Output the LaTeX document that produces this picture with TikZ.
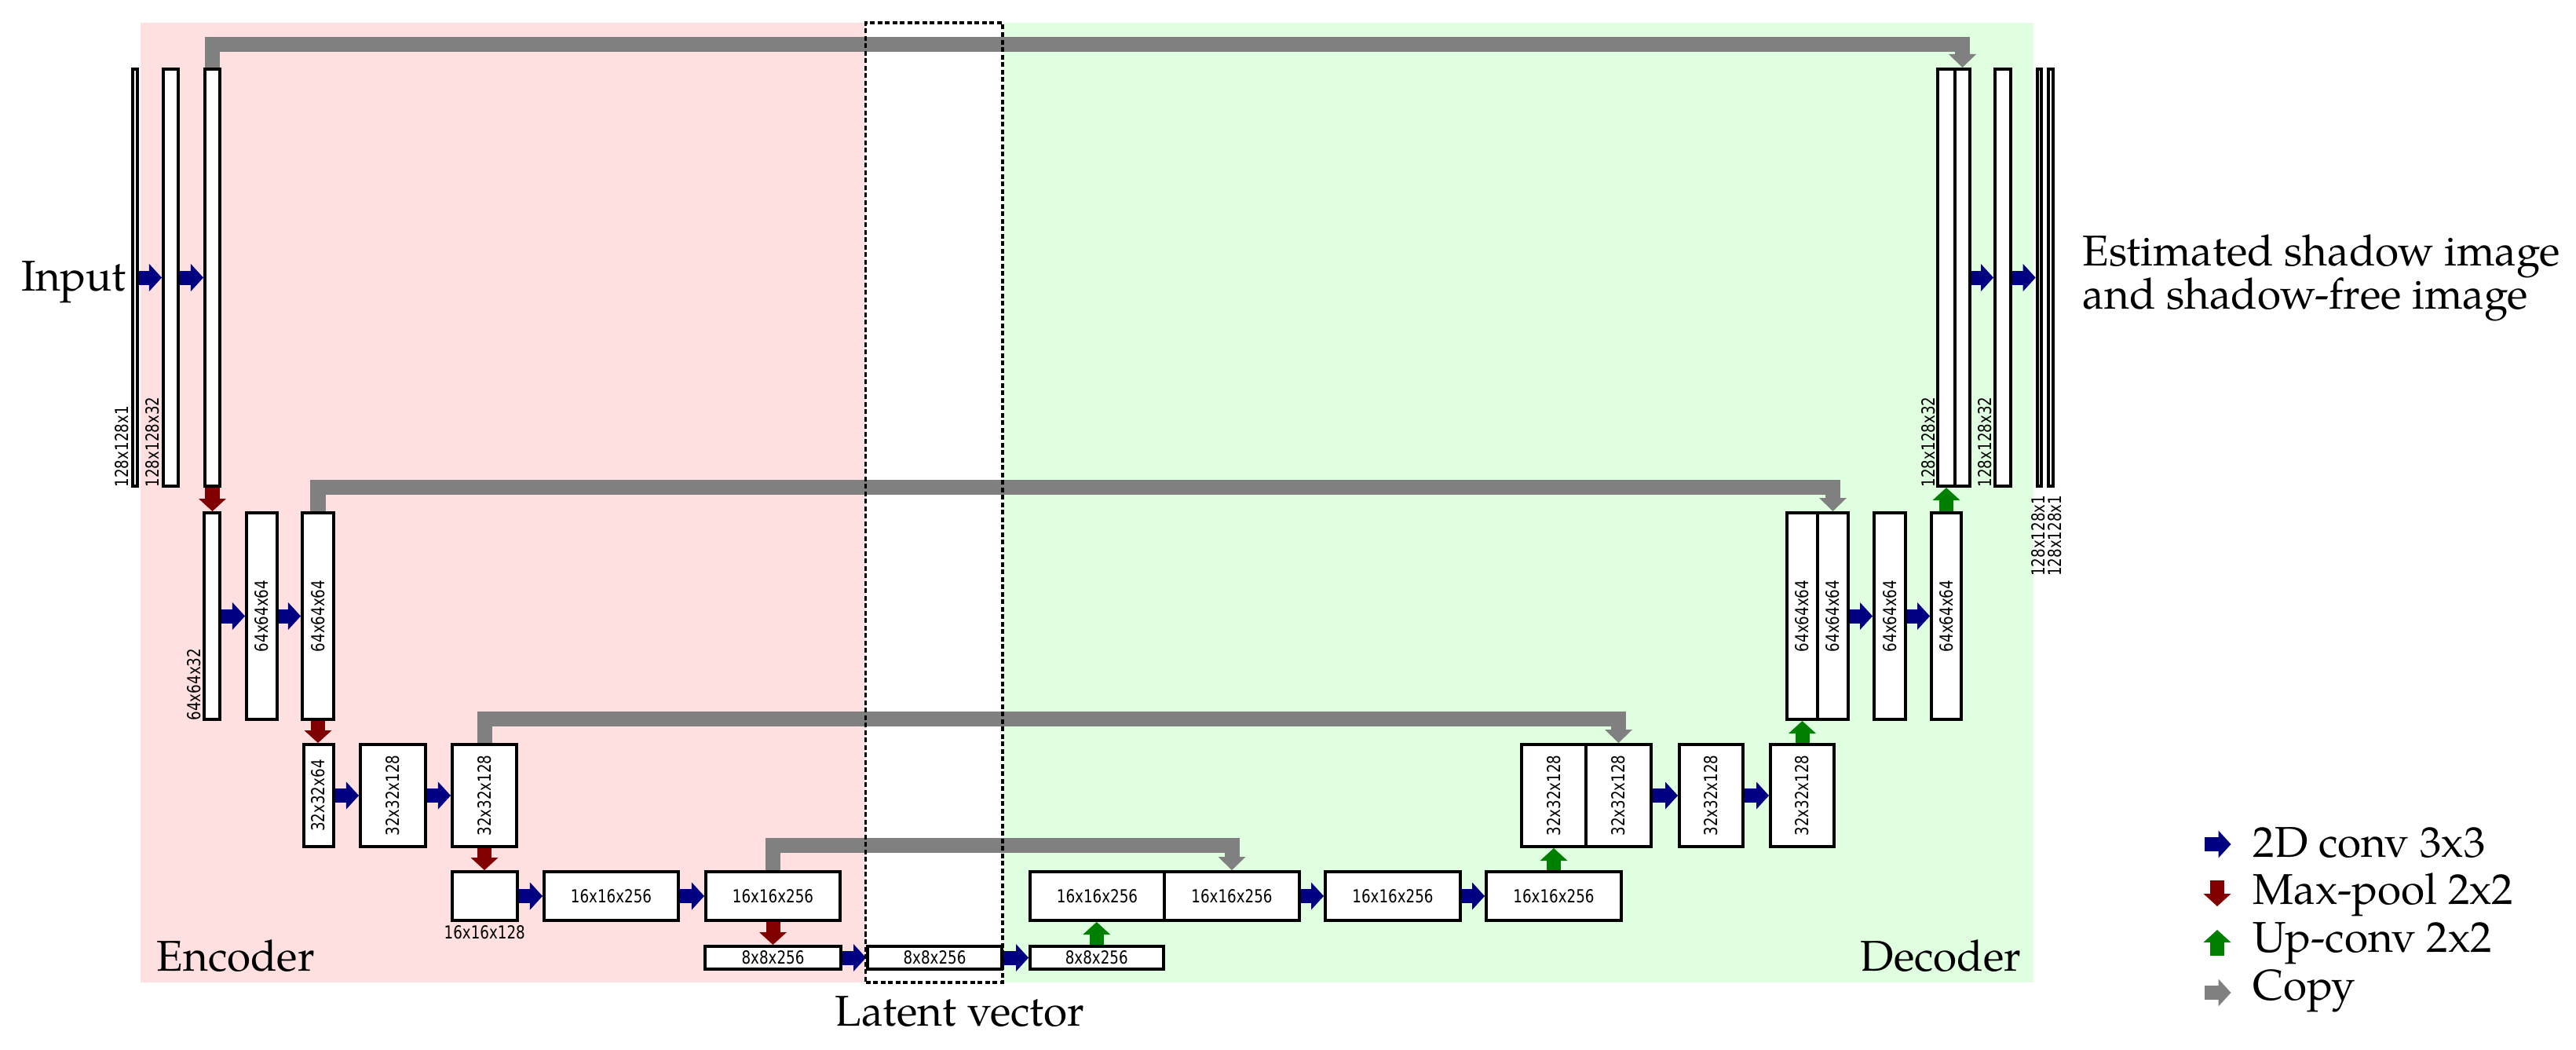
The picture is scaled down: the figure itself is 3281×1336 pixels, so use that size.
\documentclass[tikz,border=0pt]{standalone}
\usepackage{fontspec}
\setmainfont{texgyrepagella}[Extension=.otf,UprightFont=*-regular,BoldFont=*-bold,ItalicFont=*-italic]
\newfontfamily\lblfont{DejaVu Sans}
\usepackage{graphicx}
\usetikzlibrary{arrows.meta,fit,calc}
\definecolor{encbg}{RGB}{255,224,224}
\definecolor{decbg}{RGB}{224,255,224}
\definecolor{convc}{RGB}{0,0,128}
\definecolor{poolc}{RGB}{128,0,0}
\definecolor{upc}{RGB}{0,128,0}
\definecolor{copyc}{RGB}{128,128,128}
\newcommand\lbl[1]{{\lblfont\fontsize{6.5}{7}\selectfont\scalebox{0.8}[1]{#1}}}
\newcommand\mainsz{\fontsize{15.6}{18}\selectfont}
\newcommand\bx[5]{\node[box, fit={(#2+2,#3+2) (#4-2,#5-2)}] (#1) {};}
\begin{document}
\begin{tikzpicture}[x=0.01cm,y=-0.01cm,
  every node/.style={font=\mainsz},
  box/.style={draw=black, fill=white, line width=0.04cm, inner sep=0pt},
  blk/.style={line width=0.18cm, -{Triangle[width=0.35cm,length=0.16cm,line width=0pt]}},
  conv/.style={blk, draw=convc},
  pool/.style={blk, draw=poolc},
  upconv/.style={blk, draw=upc},
  copylg/.style={blk, draw=copyc},
  copyarr/.style={line width=0.19cm, draw=copyc, -{Triangle[width=0.35cm,length=0.17cm,line width=0pt]}},
  lab/.style={inner sep=0pt},
  txt/.style={inner sep=0pt}]
\useasboundingbox (0,0) rectangle (3281,1336);
% backgrounds
\fill[encbg] (178.6,29) rectangle (1102.7,1251);
\fill[decbg] (1278,29) rectangle (2590,1251);
% encoder boxes
\bx{E1a}{166.5}{86}{177}{621}
\bx{E1b}{206}{86}{229}{621}
\bx{E1c}{259}{86}{282}{621}
\bx{E2a}{258}{651}{282}{918}
\bx{E2b}{312}{651}{355}{918}
\bx{E2c}{383}{651}{427}{918}
\bx{E3a}{384.5}{946}{426.5}{1080}
\bx{E3b}{457}{946}{544}{1080}
\bx{E3c}{574}{946}{660}{1080}
\bx{E4a}{573.5}{1108}{661}{1174}
\bx{E4b}{691}{1108}{866}{1174}
\bx{E4c}{897}{1108}{1072}{1174}
\bx{E5}{896}{1203}{1073}{1236}
\bx{LV}{1103}{1203}{1278}{1236}
% decoder boxes
\bx{D5}{1310}{1203}{1483.5}{1236}
\bx{D4a}{1310}{1108}{1485}{1174}
\bx{D4b}{1481}{1108}{1657}{1174}
\bx{D4c}{1686}{1108}{1862}{1174}
\bx{D4d}{1891}{1108}{2067}{1174}
\bx{D3a}{1936}{946}{2022}{1080}
\bx{D3b}{2018}{946}{2105}{1080}
\bx{D3c}{2137}{946}{2222}{1080}
\bx{D3d}{2253}{946}{2338}{1080}
\bx{D2a}{2274}{651}{2317}{918}
\bx{D2b}{2313}{651}{2356}{918}
\bx{D2c}{2385}{651}{2428.6}{918}
\bx{D2d}{2458}{651}{2500}{918}
\bx{D1a}{2466}{86}{2492}{621}
\bx{D1b}{2488}{86}{2511}{621}
\bx{D1c}{2539}{86}{2563}{621}
\bx{D1d}{2592.7}{86}{2602}{621}
\bx{D1e}{2607}{86}{2617.4}{621}
% labels outside boxes
\node[lab, rotate=90, anchor=base west] (tE1a) at ($(E1a.south west)+(-3,0)$) {\lbl{128x128x1}};
\node[lab, rotate=90, anchor=base west] (tE1b) at ($(E1b.south west)+(-3,0)$) {\lbl{128x128x32}};
\node[lab, rotate=90, anchor=base west] (tE2a) at ($(E2a.south west)+(-3,0)$) {\lbl{64x64x32}};
\node[lab, rotate=90, anchor=base west] (tD1a) at ($(D1a.south west)+(-2,0)$) {\lbl{128x128x32}};
\node[lab, rotate=90, anchor=base west] (tD1c) at ($(D1c.south west)+(-3,0)$) {\lbl{128x128x32}};
\node[lab, rotate=90, anchor=base east] (tD1d) at ($(D1d.south east)+(2,9)$) {\lbl{128x128x1}};
\node[lab, rotate=90, anchor=base east] (tD1e) at ($(D1e.south east)+(7.6,9)$) {\lbl{128x128x1}};
\node[lab, anchor=north] (tE4a) at ($(E4a.south)+(0,4)$) {\lbl{16x16x128}};
% labels inside boxes (vertical)
\foreach \b/\t in {E2b/64x64x64, E2c/64x64x64, E3a/32x32x64, E3b/32x32x128, E3c/32x32x128,
  D3a/32x32x128, D3b/32x32x128, D3c/32x32x128, D3d/32x32x128,
  D2a/64x64x64, D2b/64x64x64, D2c/64x64x64, D2d/64x64x64}
  \node[lab, rotate=90] (t\b) at (\b.center) {\lbl{\t}};
% labels inside boxes (horizontal)
\foreach \b/\t in {E4b/16x16x256, E4c/16x16x256, E5/8x8x256, LV/8x8x256, D5/8x8x256,
  D4a/16x16x256, D4b/16x16x256, D4c/16x16x256, D4d/16x16x256}
  \node[lab] (t\b) at (\b.center) {\lbl{\t}};
% conv arrows
\foreach \a/\b in {E1a/E1b, E1b/E1c, D1b/D1c, D1c/D1d,
  E2a/E2b, E2b/E2c, D2b/D2c, D2c/D2d,
  E3a/E3b, E3b/E3c, D3b/D3c, D3c/D3d,
  E4a/E4b, E4b/E4c, D4b/D4c, D4c/D4d,
  E5/LV, LV/D5}
  \draw[conv] (\a.east) -- (\b.west);
% pool arrows
\foreach \a/\b in {E1c/E2a, E2c/E3a, E3c/E4a, E4c/E5}
  \draw[pool] (\a.south) -- (\a.south |- \b.north);
% up-conv arrows
\foreach \a/\b in {D5/D4a, D4d/D3a, D3d/D2a, D2d/D1a}
  \draw[upconv] (\a.north) -- (\a.north |- \b.south);
% copy arrows
\coordinate (h1) at (0,56.5);
\coordinate (h2) at (0,620.5);
\coordinate (h3) at (0,915.5);
\coordinate (h4) at (0,1076.5);
\draw[copyarr] (E1c.north) -- (E1c.north |- h1) -- (D1b.north |- h1) -- (D1b.north);
\draw[copyarr] (E2c.north) -- (E2c.north |- h2) -- (D2b.north |- h2) -- (D2b.north);
\draw[copyarr] (E3c.north) -- (E3c.north |- h3) -- (D3b.north |- h3) -- (D3b.north);
\draw[copyarr] (E4c.north) -- (E4c.north |- h4) -- (D4b.north |- h4) -- (D4b.north);
% latent region
\node[draw=black, line width=0.035cm, dash pattern=on 0.06cm off 0.035cm, inner sep=0pt,
  fit={(1102.7,29) (1277,1251)}] (latreg) {};
% texts
\node[txt, anchor=base east] (input) at (161,370.5) {Input};
\node[txt, anchor=base west] (enc) at (199,1236.7) {Encoder};
\node[txt, anchor=base east] (dec) at (2575,1236.7) {Decoder};
\node[txt, anchor=base west] (latt) at (1063,1306) {Latent vector};
\node[txt, anchor=base west] (out1) at (2652,338) {Estimated shadow image};
\node[txt, anchor=base west] (out2) at (2652,393) {and shadow-free image};
% legend
\coordinate (lg1a) at (2807.5,1075); \coordinate (lg1b) at (2841.5,1075);
\coordinate (lg2a) at (2824,1121); \coordinate (lg2b) at (2824,1154);
\coordinate (lg3a) at (2824,1217); \coordinate (lg3b) at (2824,1184);
\coordinate (lg4a) at (2807.5,1264); \coordinate (lg4b) at (2841.5,1264);
\draw[conv] (lg1a) -- (lg1b);
\draw[pool] (lg2a) -- (lg2b);
\draw[upconv] (lg3a) -- (lg3b);
\draw[copylg] (lg4a) -- (lg4b);
\node[txt, anchor=base west] (lgt1) at (2869,1091.7) {2D conv 3x3};
\node[txt, anchor=base west] (lgt2) at (2869,1151.7) {Max-pool 2x2};
\node[txt, anchor=base west] (lgt3) at (2869,1212.7) {Up-conv 2x2};
\node[txt, anchor=base west] (lgt4) at (2869,1273) {Copy};
\end{tikzpicture}
\end{document}
